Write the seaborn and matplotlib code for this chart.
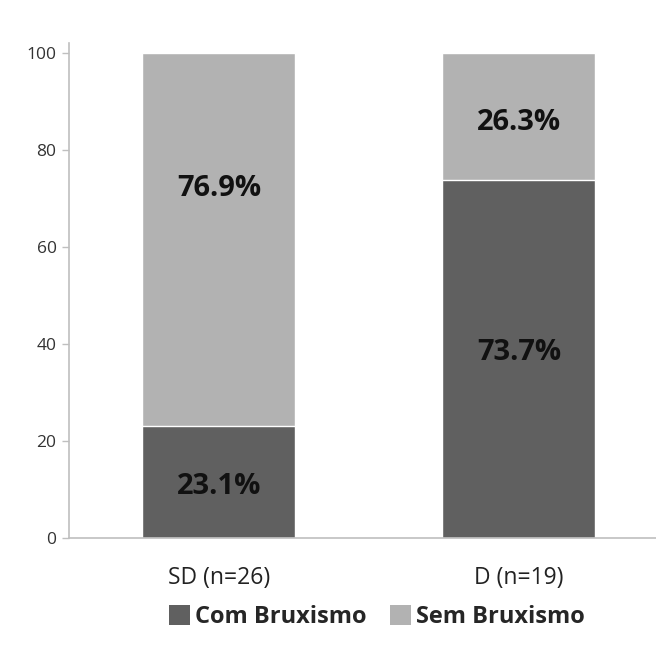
import matplotlib
matplotlib.use("Agg")
import matplotlib.pyplot as plt
import seaborn as sns
import pandas as pd
from matplotlib.patches import Patch

categories = ["SD (n=26)", "D (n=19)"]
com_bruxismo = [23.1, 73.7]
sem_bruxismo = [76.9, 26.3]
yticks = [0, 20, 40, 60, 80, 100]

sns.set_theme(style="white")
plt.rcParams["font.family"] = ["Open Sans", "DejaVu Sans"]

dark = "#606060"
light = "#b2b2b2"
axis_col = "#bfbfbf"

fig = plt.figure(figsize=(6.56, 6.45), dpi=100)
ax = fig.add_axes([69 / 656, 1 - 538 / 645, (656 - 69) / 656, 495 / 645])

df = pd.DataFrame({"cat": categories, "com": com_bruxismo,
                   "total": [c + s for c, s in zip(com_bruxismo, sem_bruxismo)]})

sns.barplot(data=df, x="cat", y="total", color=light, saturation=1, width=0.51,
            edgecolor="white", linewidth=1, ax=ax)
sns.barplot(data=df, x="cat", y="com", color=dark, saturation=1, width=0.51,
            edgecolor="white", linewidth=1, ax=ax)

ax.set_xlim(-0.5, 1.457)
ax.set_ylim(0, 102)
ax.set_yticks(yticks)
ax.set_yticklabels([str(t) for t in yticks], fontsize=12.5, color="#333333")
ax.set_xlabel("")
ax.set_ylabel("")
ax.set_xticks(range(len(categories)))
ax.set_xticklabels(categories, fontsize=16.5, color="#222222")
ax.tick_params(axis="x", length=0, pad=20)
ax.tick_params(axis="y", length=5, width=1, color=axis_col, direction="out", left=True, pad=4)

for s in ["top", "right"]:
    ax.spines[s].set_visible(False)
for s in ["left", "bottom"]:
    ax.spines[s].set_color(axis_col)
    ax.spines[s].set_linewidth(1.2)

label_y_sem = [72.1, 85.7]
label_y_com = [10.7, 38.3]
for i in range(len(categories)):
    ax.text(i, label_y_com[i], f"{com_bruxismo[i]:.1f}%", ha="center", va="center",
            fontsize=21, fontweight="bold", color="#111111")
    ax.text(i, label_y_sem[i], f"{sem_bruxismo[i]:.1f}%", ha="center", va="center",
            fontsize=21, fontweight="bold", color="#111111")

handles = [Patch(facecolor=dark, edgecolor="none", label="Com Bruxismo"),
           Patch(facecolor=light, edgecolor="none", label="Sem Bruxismo")]
fig.legend(handles=handles, loc="center", bbox_to_anchor=(377 / 656, 1 - 617 / 645),
           ncol=2, frameon=False, prop={"weight": "bold", "size": 17},
           handlelength=0.9, handleheight=0.9, handletextpad=0.2, columnspacing=1.0)

fig.savefig("out.png", dpi=100)
